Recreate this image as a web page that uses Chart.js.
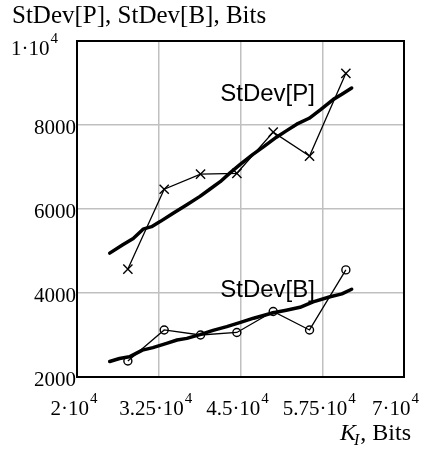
<!DOCTYPE html>
<html><head><meta charset="utf-8">
<script src="https://cdn.jsdelivr.net/npm/chart.js@4"></script>
<style>html,body{margin:0;padding:0;background:#fff}#wrap{width:421px;height:450px;position:relative}</style>
</head><body><div id="wrap"><canvas id="c"></canvas></div>
<script>
// ---- data ----
const kBits = [27778, 33333, 38889, 44444, 50000, 55556, 61111];
const stdevP = [4570, 6470, 6830, 6850, 7830, 7260, 9230];
const stdevB = [2380, 3120, 3000, 3060, 3560, 3120, 4550];
const trendPX = [25000, 27000, 28600, 30100, 31400, 32700, 34700, 36800, 38800, 40300, 41900, 43400, 45000, 46900, 48500, 50500, 52000, 53600, 55500, 57200, 59200, 60500, 62000];
const trendPY = [4950, 5150, 5300, 5520, 5580, 5700, 5900, 6100, 6300, 6470, 6650, 6860, 7070, 7300, 7480, 7710, 7860, 8020, 8160, 8360, 8610, 8730, 8880];
const trendBX = [25000, 26500, 28000, 30000, 31600, 33700, 35300, 36800, 38800, 40800, 42900, 45000, 47000, 50000, 52000, 54100, 56100, 58700, 60500, 62000];
const trendBY = [2370, 2440, 2480, 2640, 2700, 2800, 2880, 2920, 3010, 3110, 3200, 3300, 3400, 3530, 3590, 3660, 3790, 3910, 3980, 4090];
const xTicks = [20000, 32500, 45000, 57500, 70000];
const xTickLabels = ['2·10^4', '3.25·10^4', '4.5·10^4', '5.75·10^4', '7·10^4'];
const yTicks = [2000, 4000, 6000, 8000, 10000];
const yTickLabels = ['2000', '4000', '6000', '8000', '1·10^4'];
const seriesNames = ['StDev[P]', 'StDev[B]'];
const yTitle = 'StDev[P], StDev[B], Bits';

const pts = (xs, ys) => xs.map((x, i) => ({x: x, y: ys[i]}));
const SERIF = '"Liberation Serif", "Times New Roman", serif';
const SANS = '"Liberation Sans", Arial, sans-serif';

function drawSup(ctx, str, x, y, align, fs) {
  const parts = str.split('^');
  ctx.font = fs + 'px ' + SERIF;
  const wm = ctx.measureText(parts[0]).width;
  let ws = 0, sfs = Math.round(fs * 0.7);
  if (parts[1]) { ctx.font = sfs + 'px ' + SERIF; ws = ctx.measureText(parts[1]).width + 1; }
  const tot = wm + ws;
  let x0 = align === 'left' ? x : align === 'right' ? x - tot : x - tot / 2;
  if (x0 + tot > 419) x0 = 419 - tot;
  ctx.textAlign = 'left'; ctx.textBaseline = 'alphabetic'; ctx.fillStyle = '#000';
  ctx.font = fs + 'px ' + SERIF;
  ctx.fillText(parts[0], x0, y);
  if (parts[1]) { ctx.font = sfs + 'px ' + SERIF; ctx.fillText(parts[1], x0 + wm + 1, y - fs * 0.57); }
}

const decor = {
  id: 'decor',
  beforeDatasetsDraw(chart) {
    const {ctx, chartArea: a} = chart;
    ctx.save();
    ctx.strokeStyle = '#000'; ctx.lineWidth = 2;
    ctx.strokeRect(a.left, a.top, a.right - a.left, a.bottom - a.top);
    ctx.restore();
  },
  afterDraw(chart) {
    const {ctx, chartArea: a, scales: {x, y}} = chart;
    ctx.save();
    const fs = 21;
    xTicks.forEach((v, i) => drawSup(ctx, xTickLabels[i], x.getPixelForValue(v) - 3, a.bottom + 38, 'center', fs));
    yTicks.forEach((v, i) => {
      const py = y.getPixelForValue(v);
      const sup = yTickLabels[i].includes('^');
      drawSup(ctx, yTickLabels[i], sup ? a.left - 19 : a.left - 1, sup ? py + 14 : py + 9, 'right', fs);
    });
    // y title
    ctx.font = '25px ' + SERIF; ctx.fillStyle = '#000'; ctx.textAlign = 'left'; ctx.textBaseline = 'alphabetic';
    ctx.fillText(yTitle, 12, 23);
    // x title K_I, Bits (right aligned)
    ctx.font = 'italic 24px ' + SERIF; const wK = ctx.measureText('K').width;
    ctx.font = 'italic 16px ' + SERIF; const wI = ctx.measureText('I').width;
    ctx.font = '24px ' + SERIF; const wB = ctx.measureText(', Bits').width;
    let xs = 412 - (wK + wI + wB);
    ctx.font = 'italic 24px ' + SERIF; ctx.fillText('K', xs, 440);
    ctx.font = 'italic 16px ' + SERIF; ctx.fillText('I', xs + wK - 2, 445);
    ctx.font = '24px ' + SERIF; ctx.fillText(', Bits', xs + wK + wI - 1, 440);
    // series labels
    ctx.font = '24px ' + SANS;
    ctx.fillText(seriesNames[0], x.getPixelForValue(41900), y.getPixelForValue(8570));
    ctx.fillText(seriesNames[1], x.getPixelForValue(41900), y.getPixelForValue(3910));
    ctx.restore();
  }
};

new Chart(document.getElementById('c'), {
  type: 'scatter',
  data: {
    datasets: [
      {data: pts(trendPX, trendPY), showLine: true, borderColor: '#000', borderWidth: 3.5, pointRadius: 0, borderJoinStyle: 'round', borderCapStyle: 'round'},
      {data: pts(kBits, stdevP), showLine: true, borderColor: '#000', borderWidth: 1.3, pointStyle: 'crossRot', pointRadius: 6.5, pointBorderWidth: 1.4, pointBorderColor: '#000', pointBackgroundColor: '#000'},
      {data: pts(trendBX, trendBY), showLine: true, borderColor: '#000', borderWidth: 3.5, pointRadius: 0, borderJoinStyle: 'round', borderCapStyle: 'round'},
      {data: pts(kBits, stdevB), showLine: true, borderColor: '#000', borderWidth: 1.3, pointStyle: 'circle', pointRadius: 4, pointBorderWidth: 1.4, pointBorderColor: '#000', pointBackgroundColor: 'rgba(0,0,0,0)'}
    ]
  },
  options: {
    responsive: true, maintainAspectRatio: false, animation: false,
    layout: {padding: {left: 77, top: 41, right: 17, bottom: 73}},
    plugins: {legend: {display: false}, tooltip: {enabled: false}},
    scales: {
      x: {type: 'linear', min: 20000, max: 70000,
          afterBuildTicks: s => { s.ticks = xTicks.map(v => ({value: v})); },
          afterFit: s => { s.height = 0; },
          ticks: {display: false}, border: {display: false},
          grid: {color: '#c0c0c0', lineWidth: 1.5, drawTicks: false}},
      y: {type: 'linear', min: 2000, max: 10000,
          afterBuildTicks: s => { s.ticks = yTicks.map(v => ({value: v})); },
          afterFit: s => { s.width = 0; },
          ticks: {display: false}, border: {display: false},
          grid: {color: '#c0c0c0', lineWidth: 1.5, drawTicks: false}}
    }
  },
  plugins: [decor]
});
</script></body></html>
